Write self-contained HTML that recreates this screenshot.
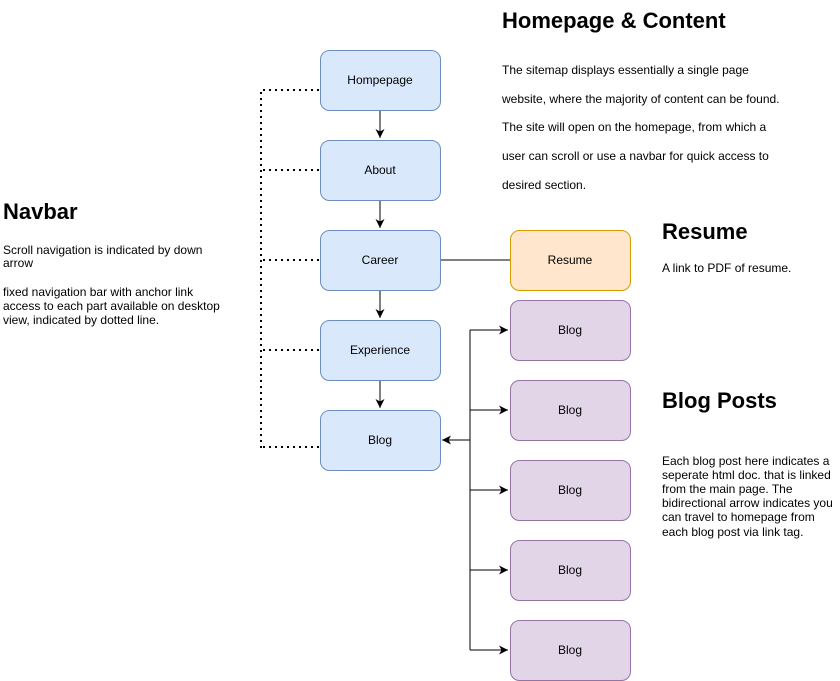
<!DOCTYPE html>
<html><head><meta charset="utf-8"><style>
html,body{margin:0;padding:0;background:#fff;}
svg{display:block;font-family:"Liberation Sans",Arial,sans-serif;}
</style></head><body>
<svg width="840" height="681" viewBox="0 0 840 681" xmlns="http://www.w3.org/2000/svg">
<defs>
<marker id="ah" markerWidth="12" markerHeight="12" refX="9" refY="6" orient="auto" markerUnits="userSpaceOnUse">
<path d="M0,1.5 L9,6 L0,10.5 L2.5,6 Z" fill="#000"/>
</marker>
</defs>
<g stroke="#000" stroke-width="2" stroke-dasharray="2,4" fill="none">
<path d="M319,90 H261 V450"/>
<path d="M319,170 H261"/>
<path d="M319,260 H261"/>
<path d="M319,350 H261"/>
<path d="M319,447 H261"/>
</g>
<g stroke="#000" stroke-width="1" fill="none">
<path d="M380,110 V138" marker-end="url(#ah)"/>
<path d="M380,200 V228" marker-end="url(#ah)"/>
<path d="M380,290 V318" marker-end="url(#ah)"/>
<path d="M380,380 V408" marker-end="url(#ah)"/>
<path d="M440,260 H510"/>
<path d="M470,330 V650"/>
<path d="M470,440 H442" marker-end="url(#ah)"/>
<path d="M470,330 H508" marker-end="url(#ah)"/>
<path d="M470,410 H508" marker-end="url(#ah)"/>
<path d="M470,490 H508" marker-end="url(#ah)"/>
<path d="M470,570 H508" marker-end="url(#ah)"/>
<path d="M470,650 H508" marker-end="url(#ah)"/>
</g>
<g fill="#dae8fc" stroke="#6c8ebf" stroke-width="1">
<rect x="320.5" y="50.5" width="120" height="60" rx="9"/>
<rect x="320.5" y="140.5" width="120" height="60" rx="9"/>
<rect x="320.5" y="230.5" width="120" height="60" rx="9"/>
<rect x="320.5" y="320.5" width="120" height="60" rx="9"/>
<rect x="320.5" y="410.5" width="120" height="60" rx="9"/>
</g>
<rect x="510.5" y="230.5" width="120" height="60" rx="9" fill="#ffe6cc" stroke="#d79b00"/>
<g fill="#e1d5e7" stroke="#9673a6" stroke-width="1">
<rect x="510.5" y="300.5" width="120" height="60" rx="9"/>
<rect x="510.5" y="380.5" width="120" height="60" rx="9"/>
<rect x="510.5" y="460.5" width="120" height="60" rx="9"/>
<rect x="510.5" y="540.5" width="120" height="60" rx="9"/>
<rect x="510.5" y="620.5" width="120" height="60" rx="9"/>
</g>
<g font-size="12" text-anchor="middle" fill="#000">
<text x="380" y="84">Hompepage</text>
<text x="380" y="174">About</text>
<text x="380" y="264">Career</text>
<text x="380" y="354">Experience</text>
<text x="380" y="444">Blog</text>
<text x="570" y="264">Resume</text>
<text x="570" y="334">Blog</text>
<text x="570" y="414">Blog</text>
<text x="570" y="494">Blog</text>
<text x="570" y="574">Blog</text>
<text x="570" y="654">Blog</text>
</g>
<g font-weight="bold" font-size="22" fill="#000">
<text x="502" y="28">Homepage &amp; Content</text>
<text x="3" y="219">Navbar</text>
<text x="662" y="239">Resume</text>
<text x="662" y="408">Blog Posts</text>
</g>
<g font-size="12" fill="#000">
<text x="502" y="74">The sitemap displays essentially a single page</text>
<text x="502" y="103">website, where the majority of content can be found.</text>
<text x="502" y="131">The site will open on the homepage, from which a</text>
<text x="502" y="160">user can scroll or use a navbar for quick access to</text>
<text x="502" y="189">desired section.</text>
<text x="3" y="254">Scroll navigation is indicated by down</text>
<text x="3" y="267">arrow</text>
<text x="3" y="296">fixed navigation bar with anchor link</text>
<text x="3" y="310">access to each part available on desktop</text>
<text x="3" y="324">view, indicated by dotted line.</text>
<text x="662" y="272">A link to PDF of resume.</text>
<text x="662" y="465">Each blog post here indicates a</text>
<text x="662" y="479">seperate html doc. that is linked</text>
<text x="662" y="493">from the main page. The</text>
<text x="662" y="507">bidirectional arrow indicates you</text>
<text x="662" y="521">can travel to homepage from</text>
<text x="662" y="536">each blog post via link tag.</text>
</g>
</svg>
</body></html>
